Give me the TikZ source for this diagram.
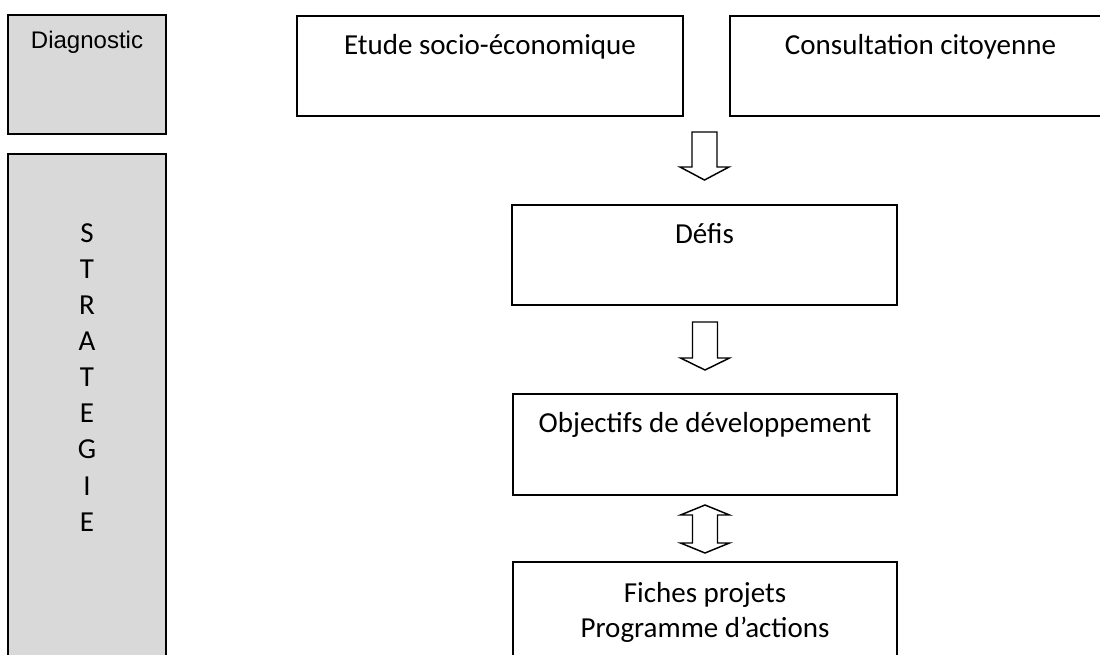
\documentclass[tikz,border=0pt]{standalone}
\usepackage{fontspec}
\setmainfont{Carlito}
\newfontfamily\arialf{Liberation Sans}
\usetikzlibrary{calc}
\definecolor{boxgray}{HTML}{D9D9D9}
\tikzset{
  box/.style={draw=black, line width=1.5pt, fill=white, rectangle, inner sep=0pt},
  graybox/.style={box, fill=boxgray},
  txt/.style={inner sep=0pt, font=\fontsize{21.75pt}{26.3pt}\selectfont},
  diagtxt/.style={inner sep=0pt, font=\arialf\fontsize{18pt}{21pt}\selectfont},
  vtxt/.style={inner sep=0pt, align=center, font=\fontsize{21.75pt}{27.1pt}\selectfont},
  blockarrow/.style={draw=black, line width=1.1pt, fill=white, line join=miter}
}
\begin{document}
\begin{tikzpicture}[x=0.75pt,y=-0.75pt]
\useasboundingbox (0,0) rectangle (1100,654);
\fill[white] (0,0) rectangle (1100,654);
\clip (0,0) rectangle (1100,654);

% left column
\node[graybox, minimum width=158*0.75pt, minimum height=119*0.75pt] (diag) at (87,74.5) {};
\node[diagtxt, anchor=base] (diagt) at ($(diag.north)+(0,34)$) {Diagnostic};
\node[graybox, minimum width=158*0.75pt, minimum height=520*0.75pt] (strat) at (87,414) {};
\node[vtxt, anchor=north] (stratt) at ($(strat.north)+(0,70)$) {S\\T\\R\\A\\T\\E\\G\\I\\E};

% top row
\node[box, minimum width=386*0.75pt, minimum height=100*0.75pt] (etude) at (490,66) {};
\node[txt, anchor=base] (etudet) at ($(etude.north)+(0,39)$) {Etude socio-économique};
\node[box, minimum width=386*0.75pt, minimum height=100*0.75pt] (consult) at (923,66) {};
\node[txt, anchor=base] (consultt) at ($(consult.north)+(-2.5,39)$) {Consultation citoyenne};

% central column
\node[box, minimum width=385*0.75pt, minimum height=100*0.75pt] (defis) at (704.5,255) {};
\node[txt, anchor=base] (defist) at ($(defis.north)+(0,39)$) {Défis};
\node[box, minimum width=384*0.75pt, minimum height=101*0.75pt] (obj) at (705,444.5) {};
\node[txt, anchor=base] (objt) at ($(obj.north)+(0,39)$) {Objectifs de développement};
\node[box, minimum width=384*0.75pt, minimum height=110*0.75pt] (fiches) at (705,617) {};
\node[txt, anchor=base] (fichest1) at ($(fiches.north)+(0,41)$) {Fiches projets};
\node[txt, anchor=base] (fichest2) at ($(fiches.north)+(0,76)$) {Programme d’actions};

% block arrows
\draw[blockarrow] ($(defis.north)+(0,-72)$) ++(-12.5,0) -- ++(25,0) -- ++(0,35)
  -- ++(12,0) -- ++(-24.5,13) -- ++(-24.5,-13) -- ++(12,0) -- cycle;
\draw[blockarrow] ($(obj.north)+(0,-71)$) ++(-12.5,0) -- ++(25,0) -- ++(0,36)
  -- ++(12,0) -- ++(-24.5,12) -- ++(-24.5,-12) -- ++(12,0) -- cycle;
\draw[blockarrow] ($(obj.south)+(0,9)$) -- ++(24.5,10) -- ++(-12,0) -- ++(0,28)
  -- ++(12,0) -- ++(-24.5,10) -- ++(-24.5,-10) -- ++(12,0) -- ++(0,-28)
  -- ++(-12,0) -- cycle;
\end{tikzpicture}
\end{document}
